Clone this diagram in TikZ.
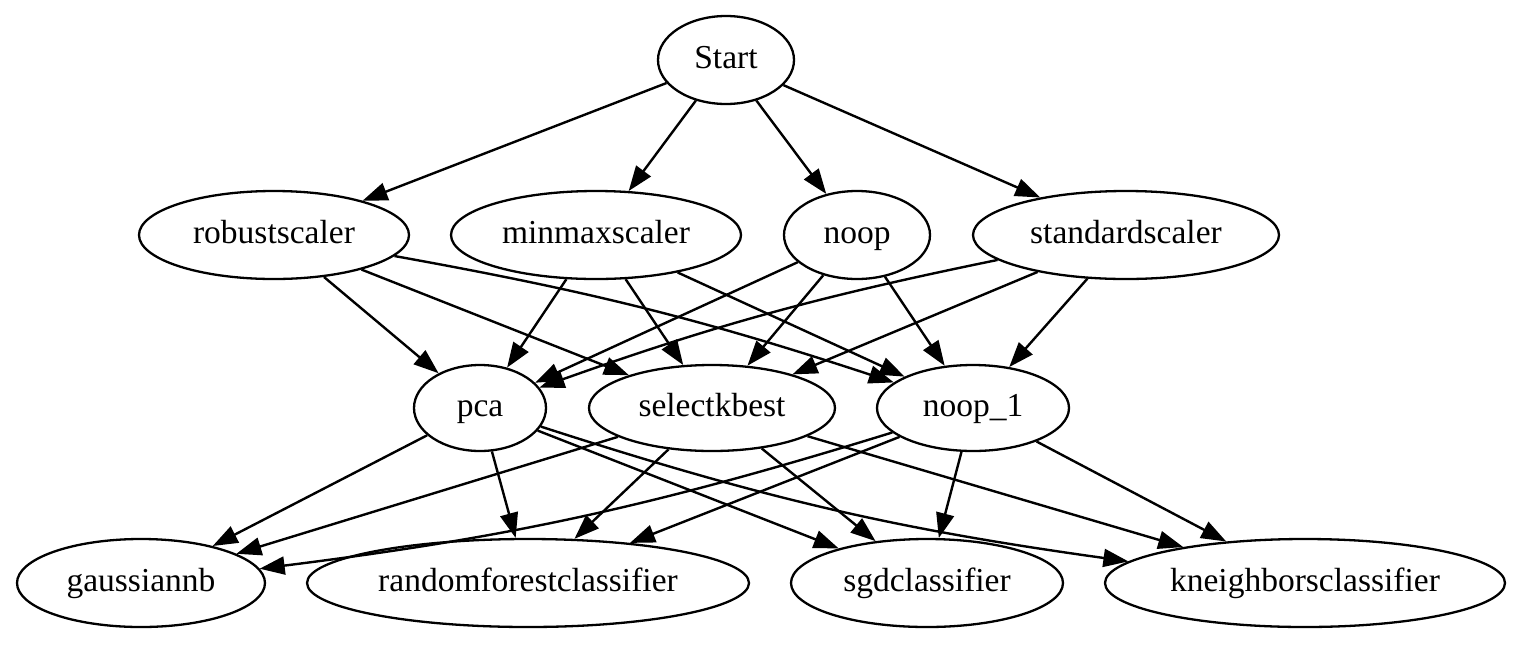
\documentclass[tikz,border=0pt]{standalone}
\usepackage{fontspec}
\setmainfont{Liberation Serif}
\usetikzlibrary{shapes.geometric,arrows.meta}
\begin{document}
\begin{tikzpicture}[x=0.5pt,y=0.5pt,
  nd/.style={draw, ellipse, line width=1.15pt, inner sep=0pt, minimum height=44pt,
    text height=12pt, text depth=4pt,
    font=\fontsize{16.75}{20}\selectfont},
  ed/.style={-{Triangle[length=12.5pt,width=9pt]}, line width=1.2pt}]
\useasboundingbox (0,0) rectangle (1526,-654);
% layer 0
\node[nd, minimum width=68pt] (start) at (726,-60) {Start};
% layer 1
\node[nd, minimum width=135pt] (rs) at (274,-235) {robustscaler};
\node[nd, minimum width=145pt] (mm) at (596,-235) {minmaxscaler};
\node[nd, minimum width=73pt] (noop) at (857,-235) {noop};
\node[nd, minimum width=153pt] (ss) at (1126,-235) {standardscaler};
% layer 2
\node[nd, minimum width=66pt, minimum height=43pt] (pca) at (480,-408) {pca};
\node[nd, minimum width=123pt, minimum height=43pt] (skb) at (712,-408) {selectkbest};
\node[nd, minimum width=96pt, minimum height=43pt] (noop1) at (973,-408) {noop\_1};
% layer 3
\node[nd, minimum width=124pt] (gnb) at (141,-583) {gaussiannb};
\node[nd, minimum width=221pt] (rf) at (528,-583) {randomforestclassifier};
\node[nd, minimum width=136pt] (sgd) at (927,-583) {sgdclassifier};
\node[nd, minimum width=200pt] (knn) at (1305,-583) {kneighborsclassifier};
% edges
\draw[ed] (start) -- (rs);
\draw[ed] (start) -- (mm);
\draw[ed] (start) -- (noop);
\draw[ed] (start) -- (ss);
\draw[ed] (rs) -- (pca);
\draw[ed] (rs) -- (skb);
\draw[ed] (rs) to[bend left=4] (noop1);
\draw[ed] (mm) -- (pca);
\draw[ed] (mm) -- (skb);
\draw[ed] (mm) -- (noop1);
\draw[ed] (noop) -- (pca);
\draw[ed] (noop) -- (skb);
\draw[ed] (noop) -- (noop1);
\draw[ed] (ss) to[bend right=4] (pca);
\draw[ed] (ss) -- (skb);
\draw[ed] (ss) -- (noop1);
\draw[ed] (pca) -- (gnb);
\draw[ed] (pca) -- (rf);
\draw[ed] (pca) -- (sgd);
\draw[ed] (pca) to[bend right=5] (knn);
\draw[ed] (skb) -- (gnb);
\draw[ed] (skb) -- (rf);
\draw[ed] (skb) -- (sgd);
\draw[ed] (skb) -- (knn);
\draw[ed] (noop1) to[bend left=5] (gnb);
\draw[ed] (noop1) -- (rf);
\draw[ed] (noop1) -- (sgd);
\draw[ed] (noop1) -- (knn);
\end{tikzpicture}
\end{document}
